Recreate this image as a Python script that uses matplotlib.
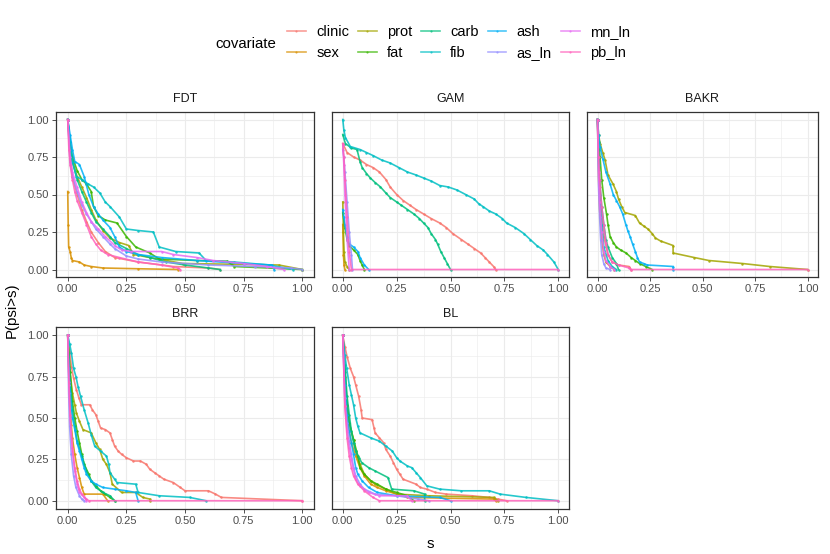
import matplotlib
matplotlib.use("Agg")
import matplotlib.pyplot as plt
from matplotlib.lines import Line2D

plt.rcParams['font.family'] = ['Liberation Sans', 'DejaVu Sans']

covariates = ["clinic", "sex", "prot", "fat", "carb", "fib", "ash", "as_ln", "mn_ln", "pb_ln"]
palette = ["#F8766D", "#D89000", "#A3A500", "#39B600", "#00BF7D",
           "#00BFC4", "#00B0F6", "#9590FF", "#E76BF3", "#FF62BC"]
panels = ["FDT", "GAM", "BAKR", "BRR", "BL"]
ticks = [0.0, 0.25, 0.5, 0.75, 1.0]
tick_labels = ["0.00", "0.25", "0.50", "0.75", "1.00"]

# (s, P(psi>s)) points, per method
FDT = {
    "clinic": [(0, 1), (0.01, 0.78), (0.02, 0.62), (0.04, 0.5), (0.06, 0.4), (0.08, 0.32), (0.1, 0.25), (0.13, 0.18), (0.16, 0.12), (0.2, 0.08), (0.3, 0.05), (0.45, 0.02), (0.6, 0.01), (0.65, 0.0)],
    "sex": [(0, 0.52), (0.002, 0.3), (0.004, 0.15), (0.01, 0.12), (0.015, 0.08), (0.02, 0.06), (0.05, 0.05), (0.07, 0.03), (0.1, 0.02), (0.15, 0.01), (0.3, 0.005), (0.47, 0.0)],
    "prot": [(0, 1), (0.01, 0.82), (0.02, 0.72), (0.04, 0.62), (0.06, 0.55), (0.08, 0.48), (0.1, 0.4), (0.12, 0.33), (0.15, 0.26), (0.18, 0.21), (0.22, 0.18), (0.26, 0.16), (0.28, 0.1), (0.35, 0.08), (0.49, 0.04), (0.7, 0.035), (0.9, 0.03), (1.0, 0.0)],
    "fat": [(0, 1), (0.01, 0.85), (0.02, 0.75), (0.04, 0.66), (0.06, 0.6), (0.08, 0.57), (0.1, 0.52), (0.11, 0.42), (0.13, 0.36), (0.16, 0.33), (0.21, 0.31), (0.25, 0.22), (0.29, 0.15), (0.35, 0.11), (0.39, 0.07), (0.55, 0.06), (0.68, 0.055), (0.71, 0.02), (1.0, 0.0)],
    "carb": [(0, 1), (0.01, 0.82), (0.02, 0.72), (0.04, 0.6), (0.06, 0.52), (0.08, 0.45), (0.1, 0.38), (0.12, 0.32), (0.15, 0.27), (0.18, 0.22), (0.2, 0.18), (0.25, 0.14), (0.3, 0.1), (0.35, 0.08), (0.42, 0.05), (0.5, 0.03), (0.6, 0.01), (0.65, 0.0)],
    "fib": [(0, 1), (0.01, 0.85), (0.02, 0.72), (0.037, 0.62), (0.06, 0.6), (0.087, 0.57), (0.11, 0.55), (0.137, 0.51), (0.16, 0.45), (0.18, 0.42), (0.22, 0.35), (0.25, 0.27), (0.3, 0.26), (0.365, 0.25), (0.39, 0.15), (0.46, 0.12), (0.56, 0.11), (0.59, 0.06), (0.71, 0.05), (0.86, 0.03), (0.96, 0.0)],
    "ash": [(0, 1), (0.01, 0.9), (0.02, 0.8), (0.03, 0.72), (0.05, 0.7), (0.07, 0.62), (0.09, 0.5), (0.11, 0.42), (0.13, 0.37), (0.15, 0.33), (0.18, 0.28), (0.2, 0.22), (0.22, 0.15), (0.25, 0.12), (0.3, 0.1), (0.4, 0.08), (0.55, 0.06), (0.75, 0.04), (0.87, 0.03), (0.88, 0.0)],
    "as_ln": [(0, 1), (0.01, 0.72), (0.02, 0.62), (0.04, 0.52), (0.06, 0.43), (0.08, 0.37), (0.1, 0.32), (0.12, 0.27), (0.15, 0.22), (0.18, 0.17), (0.2, 0.14), (0.25, 0.09), (0.3, 0.07), (0.4, 0.05), (0.6, 0.03), (0.8, 0.02), (0.95, 0.01), (1.0, 0.0)],
    "mn_ln": [(0, 1), (0.01, 0.75), (0.02, 0.65), (0.04, 0.55), (0.06, 0.45), (0.08, 0.38), (0.1, 0.32), (0.13, 0.27), (0.16, 0.22), (0.2, 0.16), (0.23, 0.13), (0.27, 0.12), (0.4, 0.12), (0.45, 0.1), (0.55, 0.08), (0.62, 0.06), (0.75, 0.04), (0.85, 0.02), (0.92, 0.0)],
    "pb_ln": [(0, 1), (0.005, 0.8), (0.01, 0.7), (0.02, 0.6), (0.03, 0.52), (0.04, 0.46), (0.06, 0.38), (0.08, 0.3), (0.1, 0.22), (0.12, 0.17), (0.14, 0.13), (0.17, 0.1), (0.22, 0.08), (0.3, 0.05), (0.4, 0.03), (0.47, 0.01), (0.48, 0.0)],
}

GAM = {
    "clinic": [(0, 0.84), (0.02, 0.78), (0.05, 0.75), (0.08, 0.73), (0.11, 0.7), (0.14, 0.68), (0.17, 0.65), (0.2, 0.6), (0.22, 0.55), (0.25, 0.5), (0.28, 0.46), (0.31, 0.43), (0.34, 0.4), (0.375, 0.37), (0.41, 0.34), (0.45, 0.31), (0.48, 0.28), (0.51, 0.24), (0.55, 0.2), (0.58, 0.17), (0.61, 0.14), (0.64, 0.11), (0.66, 0.08), (0.68, 0.05), (0.7, 0.02), (0.71, 0.0)],
    "sex": [(0, 0.3), (0.003, 0.1), (0.006, 0.03), (0.01, 0.0)],
    "prot": [(0, 0.45), (0.003, 0.25), (0.006, 0.12), (0.01, 0.05), (0.02, 0.02), (0.03, 0.0)],
    "fat": [(0, 0.38), (0.01, 0.28), (0.02, 0.2), (0.03, 0.16), (0.05, 0.13), (0.07, 0.1), (0.08, 0.06), (0.09, 0.03), (0.1, 0.0)],
    "carb": [(0, 0.9), (0.012, 0.84), (0.04, 0.81), (0.066, 0.8), (0.08, 0.72), (0.09, 0.68), (0.11, 0.64), (0.128, 0.61), (0.15, 0.58), (0.175, 0.55), (0.2, 0.51), (0.22, 0.48), (0.25, 0.45), (0.27, 0.43), (0.3, 0.4), (0.33, 0.37), (0.355, 0.34), (0.375, 0.31), (0.395, 0.28), (0.41, 0.24), (0.43, 0.2), (0.44, 0.17), (0.455, 0.12), (0.47, 0.08), (0.485, 0.04), (0.5, 0.0)],
    "fib": [(0, 1.0), (0.005, 0.93), (0.012, 0.88), (0.035, 0.82), (0.08, 0.8), (0.11, 0.78), (0.14, 0.76), (0.18, 0.73), (0.22, 0.71), (0.26, 0.68), (0.3, 0.65), (0.34, 0.63), (0.375, 0.61), (0.41, 0.59), (0.45, 0.56), (0.49, 0.55), (0.53, 0.53), (0.57, 0.5), (0.61, 0.47), (0.63, 0.44), (0.65, 0.42), (0.68, 0.39), (0.71, 0.37), (0.74, 0.34), (0.76, 0.31), (0.8, 0.28), (0.84, 0.24), (0.87, 0.2), (0.9, 0.16), (0.93, 0.13), (0.95, 0.1), (0.98, 0.05), (1.0, 0.0)],
    "ash": [(0, 0.4), (0.005, 0.35), (0.01, 0.3), (0.02, 0.22), (0.03, 0.17), (0.05, 0.15), (0.07, 0.12), (0.08, 0.08), (0.1, 0.03), (0.12, 0.0)],
    "as_ln": [(0, 0.8), (0.005, 0.75), (0.01, 0.65), (0.02, 0.45), (0.03, 0.25), (0.04, 0.1), (0.045, 0.0)],
    "mn_ln": [(0, 0.83), (0.005, 0.7), (0.01, 0.5), (0.02, 0.2), (0.03, 0.0)],
    "pb_ln": [(0, 0.84), (0.005, 0.75), (0.01, 0.6), (0.02, 0.35), (0.03, 0.12), (0.04, 0.0), (1.0, 0.0)],
}

BAKR = {
    "clinic": [(0, 1), (0.005, 0.75), (0.01, 0.55), (0.02, 0.35), (0.03, 0.22), (0.05, 0.1), (0.07, 0.05), (0.1, 0.03), (0.15, 0.02), (0.16, 0.0)],
    "sex": [(0, 1), (0.005, 0.6), (0.01, 0.4), (0.02, 0.2), (0.03, 0.1), (0.04, 0.05), (0.06, 0.02), (0.08, 0.0)],
    "prot": [(0, 1), (0.005, 0.9), (0.012, 0.84), (0.025, 0.78), (0.036, 0.73), (0.05, 0.63), (0.074, 0.57), (0.09, 0.52), (0.1, 0.47), (0.115, 0.42), (0.13, 0.38), (0.18, 0.36), (0.2, 0.31), (0.22, 0.29), (0.24, 0.27), (0.26, 0.24), (0.276, 0.21), (0.3, 0.19), (0.36, 0.16), (0.36, 0.11), (0.46, 0.08), (0.53, 0.06), (0.69, 0.04), (0.82, 0.02), (1.0, 0.0)],
    "fat": [(0, 1), (0.005, 0.85), (0.012, 0.75), (0.02, 0.6), (0.03, 0.48), (0.043, 0.37), (0.05, 0.3), (0.06, 0.22), (0.075, 0.18), (0.09, 0.15), (0.11, 0.13), (0.136, 0.11), (0.16, 0.08), (0.18, 0.06), (0.2, 0.04), (0.23, 0.02), (0.26, 0.0)],
    "carb": [(0, 1), (0.005, 0.8), (0.01, 0.6), (0.02, 0.42), (0.03, 0.3), (0.04, 0.2), (0.05, 0.15), (0.07, 0.08), (0.09, 0.04), (0.1, 0.0)],
    "fib": [(0, 1), (0.005, 0.7), (0.01, 0.5), (0.02, 0.3), (0.03, 0.15), (0.05, 0.06), (0.07, 0.02), (0.09, 0.0)],
    "ash": [(0, 1), (0.005, 0.9), (0.012, 0.82), (0.025, 0.74), (0.04, 0.65), (0.06, 0.57), (0.075, 0.5), (0.09, 0.46), (0.105, 0.42), (0.12, 0.37), (0.135, 0.3), (0.144, 0.26), (0.155, 0.22), (0.167, 0.17), (0.18, 0.12), (0.19, 0.08), (0.2, 0.05), (0.22, 0.04), (0.237, 0.03), (0.36, 0.02), (0.36, 0.0)],
    "as_ln": [(0, 1), (0.005, 0.55), (0.01, 0.35), (0.015, 0.2), (0.02, 0.1), (0.03, 0.04), (0.04, 0.01), (0.06, 0.0)],
    "mn_ln": [(0, 1), (0.005, 0.65), (0.01, 0.45), (0.02, 0.25), (0.03, 0.12), (0.04, 0.06), (0.06, 0.02), (0.08, 0.0)],
    "pb_ln": [(0, 1), (0.005, 0.75), (0.01, 0.6), (0.02, 0.42), (0.03, 0.3), (0.04, 0.18), (0.05, 0.1), (0.07, 0.05), (0.1, 0.03), (0.15, 0.01), (0.16, 0.0), (1.0, 0.0)],
}

BRR = {
    "clinic": [(0, 1), (0.008, 0.9), (0.016, 0.81), (0.025, 0.74), (0.037, 0.67), (0.048, 0.62), (0.058, 0.58), (0.094, 0.58), (0.105, 0.55), (0.12, 0.52), (0.13, 0.48), (0.14, 0.44), (0.16, 0.43), (0.18, 0.41), (0.19, 0.37), (0.2, 0.33), (0.215, 0.3), (0.23, 0.28), (0.25, 0.26), (0.28, 0.24), (0.31, 0.24), (0.335, 0.22), (0.35, 0.19), (0.37, 0.17), (0.39, 0.15), (0.41, 0.13), (0.45, 0.11), (0.48, 0.08), (0.5, 0.06), (0.6, 0.06), (0.63, 0.04), (0.655, 0.02), (1.0, 0.0)],
    "sex": [(0, 1), (0.005, 0.75), (0.01, 0.58), (0.015, 0.46), (0.02, 0.38), (0.03, 0.28), (0.04, 0.2), (0.05, 0.14), (0.06, 0.08), (0.07, 0.04), (0.15, 0.04), (0.17, 0.0)],
    "prot": [(0, 1), (0.01, 0.78), (0.02, 0.65), (0.03, 0.58), (0.037, 0.53), (0.05, 0.48), (0.065, 0.43), (0.1, 0.41), (0.12, 0.35), (0.136, 0.31), (0.15, 0.25), (0.165, 0.22), (0.18, 0.17), (0.19, 0.1), (0.23, 0.05), (0.29, 0.05), (0.32, 0.02), (0.35, 0.01), (0.35, 0.0)],
    "fat": [(0, 1), (0.01, 0.78), (0.02, 0.6), (0.03, 0.5), (0.04, 0.42), (0.05, 0.35), (0.06, 0.28), (0.07, 0.22), (0.09, 0.16), (0.1, 0.12), (0.12, 0.09), (0.14, 0.06), (0.16, 0.04), (0.18, 0.02), (0.2, 0.0)],
    "carb": [(0, 1), (0.01, 0.72), (0.02, 0.55), (0.03, 0.45), (0.04, 0.36), (0.06, 0.27), (0.08, 0.18), (0.1, 0.12), (0.12, 0.08), (0.15, 0.05), (0.18, 0.03), (0.2, 0.0)],
    "fib": [(0, 1), (0.008, 0.95), (0.016, 0.89), (0.025, 0.8), (0.035, 0.75), (0.044, 0.69), (0.055, 0.63), (0.07, 0.55), (0.087, 0.47), (0.1, 0.4), (0.115, 0.33), (0.14, 0.3), (0.165, 0.27), (0.175, 0.22), (0.18, 0.17), (0.2, 0.13), (0.21, 0.11), (0.29, 0.1), (0.3, 0.05), (0.39, 0.03), (0.52, 0.02), (0.59, 0.0)],
    "ash": [(0, 1), (0.005, 0.8), (0.01, 0.65), (0.02, 0.5), (0.03, 0.43), (0.04, 0.35), (0.05, 0.3), (0.06, 0.25), (0.07, 0.2), (0.08, 0.16), (0.1, 0.12), (0.12, 0.1), (0.15, 0.08), (0.2, 0.07), (0.25, 0.06), (0.29, 0.05), (0.3, 0.0)],
    "as_ln": [(0, 1), (0.004, 0.65), (0.008, 0.45), (0.015, 0.28), (0.025, 0.15), (0.035, 0.08), (0.05, 0.03), (0.06, 0.01), (0.07, 0.0)],
    "mn_ln": [(0, 1), (0.005, 0.7), (0.01, 0.5), (0.02, 0.3), (0.03, 0.18), (0.04, 0.1), (0.05, 0.05), (0.07, 0.02), (0.08, 0.0)],
    "pb_ln": [(0, 1), (0.005, 0.72), (0.01, 0.52), (0.02, 0.32), (0.03, 0.2), (0.04, 0.12), (0.05, 0.07), (0.06, 0.04), (0.08, 0.01), (0.09, 0.0), (1.0, 0.0)],
}

BL = {
    "clinic": [(0, 1), (0.01, 0.93), (0.02, 0.87), (0.035, 0.8), (0.05, 0.75), (0.06, 0.7), (0.074, 0.63), (0.085, 0.55), (0.09, 0.5), (0.136, 0.49), (0.145, 0.44), (0.15, 0.41), (0.17, 0.38), (0.19, 0.35), (0.2, 0.31), (0.22, 0.27), (0.235, 0.23), (0.25, 0.19), (0.265, 0.16), (0.28, 0.13), (0.34, 0.1), (0.36, 0.08), (0.39, 0.07), (0.43, 0.05), (0.48, 0.04), (0.6, 0.03), (0.68, 0.02), (0.72, 0.01), (0.76, 0.0)],
    "sex": [(0, 1), (0.01, 0.7), (0.02, 0.52), (0.03, 0.42), (0.04, 0.35), (0.06, 0.27), (0.08, 0.2), (0.1, 0.15), (0.13, 0.1), (0.16, 0.08), (0.2, 0.06), (0.25, 0.04), (0.3, 0.02), (0.7, 0.01), (0.71, 0.0)],
    "prot": [(0, 1), (0.01, 0.75), (0.02, 0.57), (0.03, 0.47), (0.05, 0.37), (0.06, 0.3), (0.08, 0.22), (0.1, 0.16), (0.13, 0.12), (0.15, 0.1), (0.2, 0.07), (0.25, 0.04), (0.4, 0.03), (0.7, 0.02), (0.72, 0.0)],
    "fat": [(0, 1), (0.01, 0.78), (0.02, 0.58), (0.03, 0.47), (0.05, 0.37), (0.07, 0.27), (0.08, 0.2), (0.1, 0.16), (0.13, 0.12), (0.16, 0.1), (0.2, 0.07), (0.25, 0.05), (0.3, 0.03), (0.33, 0.0)],
    "carb": [(0, 1), (0.01, 0.82), (0.02, 0.63), (0.03, 0.52), (0.04, 0.42), (0.05, 0.35), (0.06, 0.3), (0.075, 0.26), (0.088, 0.23), (0.12, 0.2), (0.15, 0.18), (0.21, 0.14), (0.227, 0.07), (0.33, 0.06), (0.38, 0.04), (0.38, 0.0)],
    "fib": [(0, 1), (0.01, 0.88), (0.018, 0.8), (0.03, 0.7), (0.04, 0.64), (0.05, 0.58), (0.06, 0.5), (0.07, 0.45), (0.08, 0.41), (0.13, 0.38), (0.17, 0.36), (0.2, 0.33), (0.23, 0.3), (0.25, 0.26), (0.265, 0.24), (0.3, 0.21), (0.32, 0.2), (0.34, 0.17), (0.36, 0.14), (0.39, 0.09), (0.45, 0.07), (0.55, 0.06), (0.68, 0.06), (0.73, 0.04), (0.85, 0.02), (1.0, 0.0)],
    "ash": [(0, 1), (0.01, 0.7), (0.02, 0.52), (0.03, 0.42), (0.04, 0.35), (0.05, 0.28), (0.06, 0.2), (0.07, 0.16), (0.09, 0.12), (0.12, 0.08), (0.16, 0.05), (0.25, 0.03), (0.45, 0.02), (0.5, 0.0)],
    "as_ln": [(0, 1), (0.01, 0.62), (0.02, 0.47), (0.03, 0.36), (0.04, 0.28), (0.05, 0.2), (0.06, 0.15), (0.08, 0.1), (0.1, 0.07), (0.15, 0.04), (0.25, 0.03), (0.35, 0.01), (0.4, 0.0)],
    "mn_ln": [(0, 1), (0.01, 0.57), (0.02, 0.42), (0.03, 0.32), (0.04, 0.25), (0.06, 0.13), (0.08, 0.09), (0.12, 0.05), (0.17, 0.03), (0.3, 0.03), (0.32, 0.0)],
    "pb_ln": [(0, 1), (0.01, 0.57), (0.02, 0.38), (0.03, 0.27), (0.04, 0.2), (0.05, 0.15), (0.07, 0.1), (0.1, 0.06), (0.14, 0.02), (0.17, 0.0), (1.0, 0.0)],
}

panel_data = {"FDT": FDT, "GAM": GAM, "BAKR": BAKR, "BRR": BRR, "BL": BL}

W, H = 830, 554
fig = plt.figure(figsize=(W / 100, H / 100), dpi=100)

# panel boxes in pixels: left, top, right, bottom
boxes = {
    "FDT": (56, 112, 314, 277),
    "GAM": (332, 112, 569, 277),
    "BAKR": (587, 112, 818, 277),
    "BRR": (56, 327, 314, 509),
    "BL": (332, 327, 569, 509),
}


def make_ax(name):
    l, t, r, b = boxes[name]
    ax = fig.add_axes([l / W, 1 - b / H, (r - l) / W, (b - t) / H])
    ax.set_xlim(-0.05, 1.05)
    ax.set_ylim(-0.05, 1.05)
    ax.set_xticks(ticks)
    ax.set_xticklabels(tick_labels)
    ax.set_yticks(ticks)
    ax.set_xticks([0.125, 0.375, 0.625, 0.875], minor=True)
    ax.set_yticks([0.125, 0.375, 0.625, 0.875], minor=True)
    ax.grid(which="major", color="#EBEBEB", lw=0.8)
    ax.grid(which="minor", color="#EBEBEB", lw=0.4)
    ax.set_axisbelow(True)
    ax.tick_params(which="minor", length=0)
    ax.tick_params(which="major", length=3, width=0.6, color="#333333",
                   labelsize=8, labelcolor="#4D4D4D", pad=2)
    if l == 56:
        ax.set_yticklabels(tick_labels)
    else:
        ax.tick_params(axis="y", left=False, labelleft=False)
    for sp in ax.spines.values():
        sp.set_color("#333333")
        sp.set_linewidth(0.9)
    ax.set_title(name, fontsize=9, color="#1A1A1A", pad=7)
    return ax


for name in panels:
    ax = make_ax(name)
    curves = panel_data[name]
    for cov, col in zip(covariates, palette):
        pts = curves[cov]
        s = [q[0] for q in pts]
        p = [q[1] for q in pts]
        ax.plot(s, p, color=col, lw=1.2, alpha=0.85, marker="o", ms=1.8,
                mew=0, solid_joinstyle="miter")

handles = [Line2D([], [], color=c, lw=1.2, alpha=0.7, marker="o", ms=1.6, mew=0)
           for c in palette]
fig.legend(handles, covariates, ncol=5, loc="upper left",
           bbox_to_anchor=(287 / W, 1 - 25 / H), frameon=False, fontsize=10.5,
           handlelength=1.3, handletextpad=0.7, columnspacing=0.6,
           labelspacing=0.5, borderpad=0, borderaxespad=0)
fig.text(246 / W, 1 - 44 / H, "covariate", ha="center", va="center", fontsize=10.8)

fig.text(430 / W, 1 - 544 / H, "s", ha="center", va="center", fontsize=10.8)
fig.text(12 / W, 1 - 310 / H, "P(psi>s)", ha="center", va="center",
         rotation=90, fontsize=10.8)

fig.savefig("out.png", dpi=100)
